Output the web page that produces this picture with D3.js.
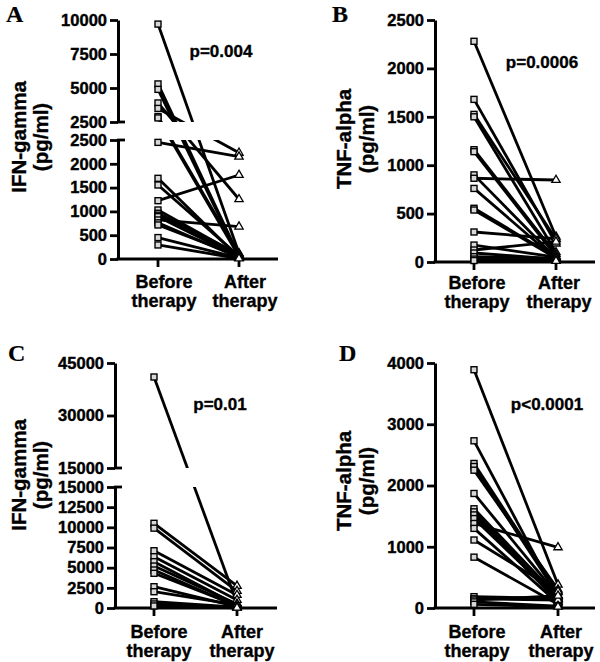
<!DOCTYPE html>
<html>
<head>
<meta charset="utf-8">
<script src="https://cdn.jsdelivr.net/npm/d3@7"></script>
<style>
  html, body { margin: 0; padding: 0; background: #fff; }
  svg { display: block; }
  text { font-family: "Liberation Sans", Arial, sans-serif; font-weight: bold; fill: #000; stroke: #000; stroke-width: 0.35px; }
</style>
</head>
<body>
<svg id="chart" width="600" height="662"></svg>
<script>
// ---------- data ----------
const categories = ["Before", "After"];
const catLine1 = ["Before", "After"];
const catLine2 = ["therapy", "therapy"];

const aBefore = [9700, 5300, 4900, 3900, 3500, 2900, 2800, 2450, 1695, 1555, 1225, 1030, 960, 920, 890, 820, 760, 715, 450, 295];
const aAfter  = [120, 60, 40, 1255, 2230, 90, 50, 2150, 30, 60, 1765, 80, 100, 50, 40, 680, 30, 60, 20, 10];
const aTicksLow = [0, 500, 1000, 1500, 2000, 2500];
const aTicksHigh = [2500, 5000, 7500, 10000];

const bBefore = [2280, 1680, 1525, 1500, 1160, 1140, 900, 865, 760, 555, 537, 310, 175, 124, 93, 55, 30, 15];
const bAfter  = [261, 190, 234, 100, 80, 60, 40, 847, 30, 50, 40, 240, 50, 210, 30, 40, 20, 10];
const bTicks = [0, 500, 1000, 1500, 2000, 2500];

const cBefore = [41000, 10500, 9900, 7100, 6360, 5740, 5200, 4710, 4300, 2640, 2020, 780, 500, 250];
const cAfter  = [600, 2730, 2100, 1610, 990, 370, 500, 200, 300, 160, 400, 100, 50, 30];
const cTicksLow = [0, 2500, 5000, 7500, 10000, 12500, 15000];
const cTicksHigh = [15000, 30000, 45000];

const dBefore = [3890, 2730, 2360, 2310, 2250, 1870, 1620, 1570, 1520, 1460, 1380, 1300, 1110, 830, 185, 150, 130, 100, 60];
const dAfter  = [380, 150, 260, 210, 300, 200, 180, 120, 100, 150, 990, 80, 270, 60, 160, 130, 200, 30, 20];
const dTicks = [0, 1000, 2000, 3000, 4000];

const panelLetters = ["A", "B", "C", "D"];
const yTitles = ["IFN-gamma", "TNF-alpha", "IFN-gamma", "TNF-alpha"];
const pTexts = ["p=0.004", "p=0.0006", "p=0.01", "p<0.0001"];

// ---------- layout ----------
const panels = [
  { id: "a", letter: panelLetters[0], title: yTitles[0], p: pTexts[0], before: aBefore, after: aAfter,
    axisX: 118, baseY: 259, xEnd: 278, cats: [158, 239], labOff: 6,
    letterPos: [6, 22], titleX: [26, 48], titleY: 137, pPos: [221, 57], labY: [288, 307],
    segs: [ { domain: [0, 2500], range: [259, 140], ticks: aTicksLow },
            { domain: [2500, 10000], range: [122, 20], ticks: aTicksHigh } ] },
  { id: "b", letter: panelLetters[1], title: yTitles[1], p: pTexts[1], before: bBefore, after: bAfter,
    axisX: 435, baseY: 262, xEnd: 595, cats: [474, 556], labOff: 3,
    letterPos: [332, 22], titleX: [351, 374], titleY: 139, pPos: [542, 68], labY: [289, 308],
    segs: [ { domain: [0, 2500], range: [262, 20], ticks: bTicks } ] },
  { id: "c", letter: panelLetters[2], title: yTitles[2], p: pTexts[2], before: cBefore, after: cAfter,
    axisX: 115, baseY: 608, xEnd: 277, cats: [154, 237], labOff: 5,
    letterPos: [8, 361], titleX: [26, 48], titleY: 475, pPos: [220, 410], labY: [638, 657],
    segs: [ { domain: [0, 15000], range: [608, 487], ticks: cTicksLow },
            { domain: [15000, 45000], range: [468, 363], ticks: cTicksHigh } ] },
  { id: "d", letter: panelLetters[3], title: yTitles[3], p: pTexts[3], before: dBefore, after: dAfter,
    axisX: 435, baseY: 608, xEnd: 595, cats: [474, 558], labOff: 3,
    letterPos: [339, 361], titleX: [351, 374], titleY: 481, pPos: [547, 410], labY: [638, 657],
    segs: [ { domain: [0, 4000], range: [608, 363], ticks: dTicks } ] }
];

const svg = d3.select("#chart");
const defs = svg.append("defs");

panels.forEach(P => {
  const g = svg.append("g");
  const scales = P.segs.map(s => d3.scaleLinear().domain(s.domain).range(s.range));
  const y = v => {
    for (let i = 0; i < P.segs.length; i++) {
      if (v <= P.segs[i].domain[1] || i === P.segs.length - 1) return scales[i](v);
    }
  };
  const x = d3.scalePoint().domain(categories).range(P.cats);

  // clip path (union of segment bands)
  const clip = defs.append("clipPath").attr("id", "clip-" + P.id);
  if (P.segs.length > 1) {
    const low = P.segs[0], high = P.segs[1];
    clip.append("rect").attr("x", P.axisX).attr("y", low.range[1]).attr("width", P.xEnd - P.axisX)
      .attr("height", low.range[0] - low.range[1] + 10);
    clip.append("rect").attr("x", P.axisX).attr("y", high.range[1] - 10).attr("width", P.xEnd - P.axisX)
      .attr("height", high.range[0] - high.range[1] + 10);
  } else {
    const s = P.segs[0];
    clip.append("rect").attr("x", P.axisX).attr("y", s.range[1] - 10).attr("width", P.xEnd - P.axisX)
      .attr("height", s.range[0] - s.range[1] + 20);
  }

  // axes
  P.segs.forEach((s, i) => {
    const ax = d3.axisLeft(scales[i]).tickValues(s.ticks).tickFormat(d3.format("d"))
      .tickSize(8).tickSizeOuter(0).tickPadding(3);
    const ag = g.append("g").attr("transform", `translate(${P.axisX},0)`).call(ax);
    ag.select(".domain").attr("stroke", "#000").attr("stroke-width", 3);
    ag.selectAll(".tick line").attr("stroke", "#000").attr("stroke-width", 2.8);
    ag.selectAll(".tick text").style("font-family", '"Liberation Sans", Arial, sans-serif')
      .style("font-weight", "bold").style("font-size", "16.5px").attr("fill", "#000")
      .style("stroke", "#000").style("stroke-width", "0.4px");
  });
  // break marks
  if (P.segs.length > 1) {
    [P.segs[0].range[1], P.segs[1].range[0]].forEach(yy => {
      g.append("line").attr("x1", P.axisX - 1).attr("x2", P.axisX + 7)
        .attr("y1", yy).attr("y2", yy).attr("stroke", "#000").attr("stroke-width", 2.8);
    });
  }

  // x axis
  g.append("line").attr("x1", P.axisX - 1.5).attr("x2", P.xEnd).attr("y1", P.baseY).attr("y2", P.baseY)
    .attr("stroke", "#000").attr("stroke-width", 3);
  categories.forEach(c => {
    g.append("line").attr("x1", x(c)).attr("x2", x(c)).attr("y1", P.baseY).attr("y2", P.baseY + 8)
      .attr("stroke", "#000").attr("stroke-width", 2.8);
  });
  categories.forEach((c, i) => {
    const t = g.append("text").attr("text-anchor", "middle").style("font-size", "18px");
    t.append("tspan").attr("x", x(c) + P.labOff).attr("y", P.labY[0]).text(catLine1[i]);
    t.append("tspan").attr("x", x(c) + P.labOff).attr("y", P.labY[1]).text(catLine2[i]);
  });

  // lines
  const pairs = P.before.map((b, i) => ({ b: b, a: P.after[i] }));
  const lg = g.append("g").attr("clip-path", `url(#clip-${P.id})`);
  lg.selectAll("line").data(pairs).join("line")
    .attr("x1", x("Before")).attr("y1", d => y(d.b))
    .attr("x2", x("After")).attr("y2", d => y(d.a))
    .attr("stroke", "#000").attr("stroke-width", 2.8);

  // markers
  const sq = 6;
  g.append("g").selectAll("rect").data(P.before).join("rect")
    .attr("x", d => x("Before") - sq / 2).attr("y", d => y(d) - sq / 2)
    .attr("width", sq).attr("height", sq)
    .attr("fill", "#d8d8d8").attr("stroke", "#000").attr("stroke-width", 1.4);
  const tri = d3.symbol().type(d3.symbolTriangle).size(30);
  g.append("g").selectAll("path").data(P.after).join("path")
    .attr("d", tri)
    .attr("transform", d => `translate(${x("After")},${y(d)})`)
    .attr("fill", "#fff").attr("stroke", "#000").attr("stroke-width", 1.3);

  // y title
  g.append("text").attr("text-anchor", "middle").style("font-size", "20.5px")
    .attr("transform", `translate(${P.titleX[0]},${P.titleY}) rotate(-90)`).text(P.title);
  g.append("text").attr("text-anchor", "middle").style("font-size", "20.5px")
    .attr("transform", `translate(${P.titleX[1]},${P.titleY}) rotate(-90)`).text("(pg/ml)");

  // p-value
  g.append("text").attr("text-anchor", "middle").style("font-size", "17px")
    .attr("x", P.pPos[0]).attr("y", P.pPos[1]).text(P.p);

  // panel letter
  g.append("text").attr("x", P.letterPos[0]).attr("y", P.letterPos[1])
    .style("font-family", '"Liberation Serif", "Times New Roman", serif')
    .style("font-size", "24px").style("font-weight", "bold").style("stroke-width", "0.2px").text(P.letter);
});
</script>
</body>
</html>
